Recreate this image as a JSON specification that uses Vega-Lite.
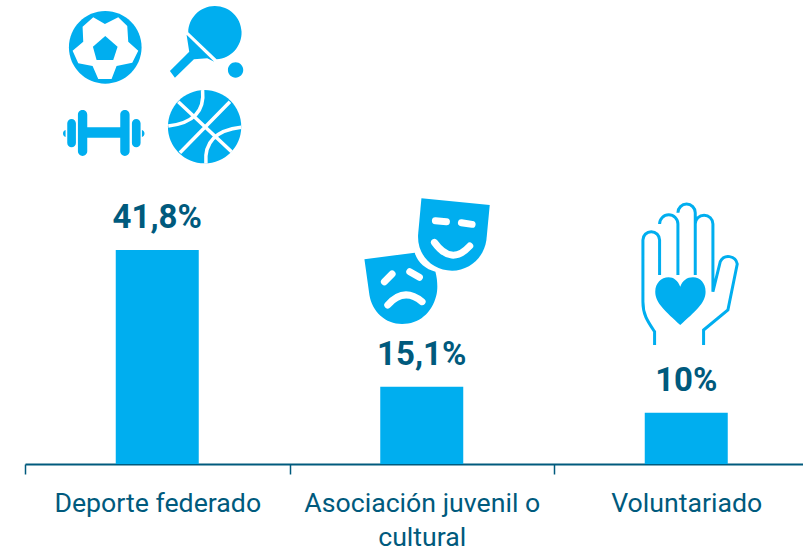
{"$schema":"https://vega.github.io/schema/vega-lite/v6.json","autosize":{"type":"none"},"padding":{"left":25,"top":0,"right":0,"bottom":87},"width":778,"height":464,"background":"white","config":{"view":{"stroke":null}},"datasets":{"barras":[{"categoria":"Deporte federado","valor":41.8,"etiqueta":"41,8%"},{"categoria":"Asociación juvenil o cultural","valor":15.1,"etiqueta":"15,1%"},{"categoria":"Voluntariado","valor":10,"etiqueta":"10%"}],"iconos":[{"categoria":"Deporte federado","nivel":71.09,"pieza":"balon","capa":"azul"},{"categoria":"Deporte federado","nivel":71.09,"pieza":"balon-blanco","capa":"blanco"},{"categoria":"Deporte federado","nivel":71.09,"pieza":"balon-centro","capa":"azul2"},{"categoria":"Deporte federado","nivel":71.09,"pieza":"pala","capa":"azul"},{"categoria":"Deporte federado","nivel":71.09,"pieza":"pesa","capa":"azul"},{"categoria":"Deporte federado","nivel":71.09,"pieza":"basket","capa":"azul"},{"categoria":"Deporte federado","nivel":71.09,"pieza":"basket-lineas","capa":"trazo-blanco"},{"categoria":"Asociación juvenil o cultural","nivel":37.89,"pieza":"mascara-alegre","capa":"azul"},{"categoria":"Asociación juvenil o cultural","nivel":37.89,"pieza":"mascara-triste","capa":"azul"},{"categoria":"Asociación juvenil o cultural","nivel":37.89,"pieza":"rasgos","capa":"trazo-blanco-grueso"},{"categoria":"Voluntariado","nivel":33.98,"pieza":"corazon","capa":"azul"},{"categoria":"Voluntariado","nivel":33.98,"pieza":"mano","capa":"trazo-azul"}]},"layer":[{"data":{"name":"barras"},"mark":{"type":"bar","color":"#00aeef","width":83},"encoding":{"x":{"field":"categoria","type":"nominal","sort":null,"title":null,"scale":{"domain":["Deporte federado","Asociación juvenil o cultural","Voluntariado"],"range":[0,793.5],"paddingInner":0,"paddingOuter":0},"axis":{"tickBand":"extent","labelAngle":0,"domainColor":"#005a7d","domainWidth":2,"tickColor":"#005a7d","tickWidth":1.5,"tickSize":10,"labelColor":"#005a7d","labelFont":"Roboto","labelFontSize":26.7,"labelPadding":37,"labelLimit":0,"labelLineHeight":34.5,"labelBaseline":"alphabetic","labelExpr":"datum.value=='Asociación juvenil o cultural' ? ['Asociación juvenil o','cultural'] : datum.label","grid":false}},"y":{"field":"valor","type":"quantitative","title":null,"axis":null,"scale":{"domain":[0,90.625],"nice":false,"zero":false}}}},{"data":{"name":"barras"},"mark":{"type":"text","baseline":"alphabetic","align":"center","dy":-22,"font":"Roboto","fontWeight":"bold","fontSize":33,"color":"#005a7d"},"encoding":{"x":{"field":"categoria","type":"nominal","sort":null},"y":{"field":"valor","type":"quantitative"},"text":{"field":"etiqueta"}}},{"data":{"name":"iconos"},"encoding":{"x":{"field":"categoria","type":"nominal","sort":null},"y":{"field":"nivel","type":"quantitative"},"shape":{"field":"pieza","type":"nominal","legend":null,"scale":{"domain":["balon","balon-blanco","balon-centro","pala","pesa","basket","basket-lineas","mascara-alegre","mascara-triste","rasgos","corazon","mano"],"range":["M-265 -158A109 109 0 1 1 -47 -158A109 109 0 1 1 -265 -158Z","M-192 -248L-157 -228L-117 -248L-90 -222L-87 -175L-57 -148L-75 -112L-122 -102L-137 -63L-177 -63L-194 -102L-237 -110L-254 -148L-222 -175L-224 -220Z","M-156 -192L-119 -160L-132 -120L-182 -120L-193 -160Z","M93 -203A80 80 0 1 1 178 -122ZM88 -196L96 -145L38 -87L53 -67L110 -122L150 -125L171 -115ZM212 -90A23 23 0 1 1 258 -90A23 23 0 1 1 212 -90Z","M-212 82H-110V113H-212ZM-224 30a14 14 0 0 1 14 14v110a14 14 0 0 1 -14 14a14 14 0 0 1 -14 -14v-110a14 14 0 0 1 14 -14zM-97 30a14 14 0 0 1 14 14v110a14 14 0 0 1 -14 14a14 14 0 0 1 -14 -14v-110a14 14 0 0 1 14 -14zM-257 57a13 13 0 0 1 13 13v59a13 13 0 0 1 -13 13a13 13 0 0 1 -13 -13v-59a13 13 0 0 1 13 -13zM-63 57a13 13 0 0 1 13 13v59a13 13 0 0 1 -13 13a13 13 0 0 1 -13 -13v-59a13 13 0 0 1 13 -13zM-275 90v21a11 11 0 0 1 0 -21zM-46 90v21a11 11 0 0 0 0 -21z","M32 80A110 110 0 1 1 252 80A110 110 0 1 1 32 80Z","M63 5L223 155M218 5L68 158M136 -30Q146 65 33 78M252 82Q138 95 146 190","M-1 -215L204 -195L194 -90C186 -35 141 2 91 2C31 2 -14 -45 -11 -105Z","M-172 -32L-21 -52C-14 -25 11 -2 41 5C48 30 48 60 44 75C31 130 -9 162 -59 162C-109 162 -149 125 -157 75Z","M41 -148L74 -145M119 -142L151 -137M38 -83Q89 -12 144 -72M-112 35L-89 12M-36 5L-7 22M-102 105Q-54 50 1 95","M-18 105C-60 65 -93 40 -93 5C-93 -20 -75 -38 -53 -38C-38 -38 -25 -28 -18 -10C-11 -28 2 -38 20 -38C42 -38 58 -20 58 5C58 40 25 65 -18 105Z","M-95 165L-95 125C-115 95 -130 75 -130 35L-130 -150A25 25 0 0 1 -80 -150L-80 -45M-80 -198A27.5 27.5 0 0 1 -25 -198L-25 -45M-25 -232A26 26 0 0 1 27 -232L27 -45M27 -198A26.5 26.5 0 0 1 80 -198L80 5L102 -85A27 27 0 0 1 153 -78L125 60L52 120L52 165"]}}},"layer":[{"transform":[{"filter":"datum.capa=='azul'"}],"mark":{"type":"point","filled":true,"fill":"#00aeef","size":0.4444,"opacity":1}},{"transform":[{"filter":"datum.capa=='blanco'"}],"mark":{"type":"point","filled":true,"fill":"white","size":0.4444,"opacity":1}},{"transform":[{"filter":"datum.capa=='azul2'"}],"mark":{"type":"point","filled":true,"fill":"#00aeef","size":0.4444,"opacity":1}},{"transform":[{"filter":"datum.capa=='trazo-blanco'"}],"mark":{"type":"point","filled":false,"stroke":"white","strokeWidth":3.5,"size":0.4444,"opacity":1}},{"transform":[{"filter":"datum.capa=='trazo-blanco-grueso'"}],"mark":{"type":"point","filled":false,"stroke":"white","strokeWidth":7,"strokeCap":"round","size":0.4444,"opacity":1}},{"transform":[{"filter":"datum.capa=='trazo-azul'"}],"mark":{"type":"point","filled":false,"stroke":"#00aeef","strokeWidth":3,"size":0.4444,"opacity":1}}]}]}
